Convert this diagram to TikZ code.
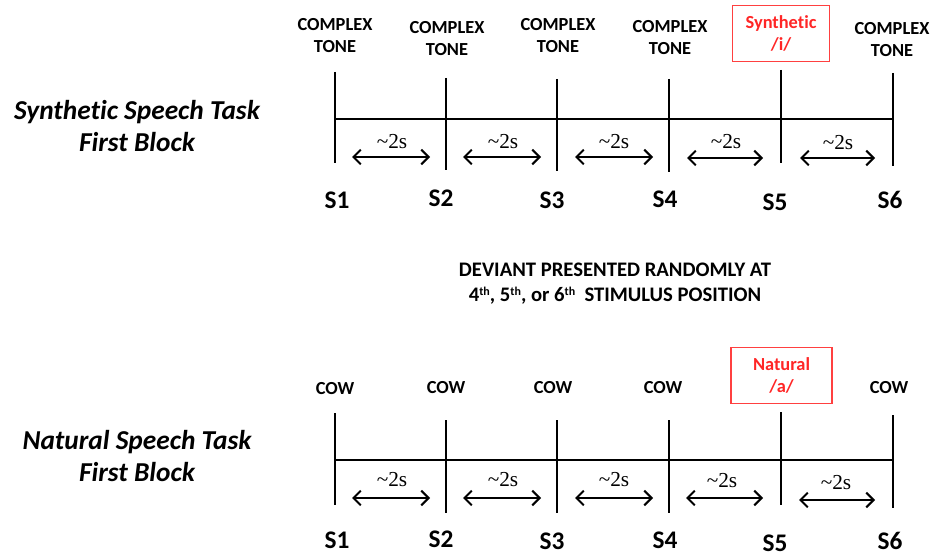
\documentclass[tikz,border=0pt]{standalone}
\usepackage{fontspec}
\setmainfont{Carlito}[Ligatures=NoCommon]
\newfontfamily\gapfont{Liberation Serif}
\usetikzlibrary{arrows.meta, positioning}

\tikzset{
    stim/.style={font=\fontsize{13.8}{16.5}\selectfont\bfseries, align=center, inner sep=0pt},
    slab/.style={font=\fontsize{19}{20}\selectfont\bfseries, inner sep=0pt},
    gaplab/.style={font=\fontsize{16}{16}\gapfont, inner sep=0pt},
    task/.style={font=\fontsize{20.5}{24}\selectfont\bfseries\itshape, align=center, inner sep=0pt},
    devbox/.style={draw=red!75, line width=1.1pt, text=red!85, font=\fontsize{13.8}{17}\selectfont\bfseries,
        align=center, minimum width=73pt, minimum height=42pt},
    tick/.style={line width=1.6pt},
    base/.style={line width=1.1pt},
    gap/.style={<->, line width=1.5pt}
}

\begin{document}
\begin{tikzpicture}[x=0.75pt, y=-0.75pt, >={Straight Barb[length=5.5pt, width=11pt]}]
    \useasboundingbox (0,0) rectangle (934,556);

    % Task titles
    \node[task] (synth) at (137,126) {Synthetic Speech Task\\First Block};
    \node[task] (nat) at (137,456) {Natural Speech Task\\First Block};

    % Upper timeline: stimulus ticks
    \coordinate (u1t) at (335,72);  \coordinate (u1b) at (335,163);
    \coordinate (u2t) at (446,78);  \coordinate (u2b) at (446,170);
    \coordinate (u3t) at (557,79);  \coordinate (u3b) at (557,171);
    \coordinate (u4t) at (669,79);  \coordinate (u4b) at (669,172);
    \coordinate (u5t) at (781,70);  \coordinate (u5b) at (781,163);
    \coordinate (u6t) at (893,73);  \coordinate (u6b) at (893,166);
    \draw[tick] (u1t) -- (u1b);
    \draw[tick] (u2t) -- (u2b);
    \draw[tick] (u3t) -- (u3b);
    \draw[tick] (u4t) -- (u4b);
    \draw[tick] (u5t) -- (u5b);
    \draw[tick] (u6t) -- (u6b);
    \coordinate (u1m) at (335,119); \coordinate (u6m) at (893,119);
    \draw[base] (u1m) -- (u6m);

    % Upper timeline: stimuli
    \node[stim] (tone1) at (335,36) {COMPLEX\\TONE};
    \node[stim] (tone2) at (447,39) {COMPLEX\\TONE};
    \node[stim] (tone3) at (558,36) {COMPLEX\\TONE};
    \node[stim] (tone4) at (670,37.5) {COMPLEX\\TONE};
    \node[devbox] (devi) at (781,33.5) {Synthetic\\/i/};
    \node[stim] (tone6) at (892,39.5) {COMPLEX\\TONE};

    % Upper timeline: intervals
    \coordinate (ua1) at (352,157); \coordinate (ub1) at (430,157);
    \coordinate (ua2) at (463,157); \coordinate (ub2) at (541,157);
    \coordinate (ua3) at (575,157); \coordinate (ub3) at (653,157);
    \coordinate (ua4) at (687,158); \coordinate (ub4) at (763,158);
    \coordinate (ua5) at (800,158); \coordinate (ub5) at (875,158);
    \draw[gap] (ua1) -- (ub1);
    \draw[gap] (ua2) -- (ub2);
    \draw[gap] (ua3) -- (ub3);
    \draw[gap] (ua4) -- (ub4);
    \draw[gap] (ua5) -- (ub5);
    \node[gaplab] (ug1) at (392,142) {\textasciitilde 2s};
    \node[gaplab] (ug2) at (503,142) {\textasciitilde 2s};
    \node[gaplab] (ug3) at (614,142) {\textasciitilde 2s};
    \node[gaplab] (ug4) at (726,142) {\textasciitilde 2s};
    \node[gaplab] (ug5) at (838,143) {\textasciitilde 2s};

    % Upper timeline: positions
    \node[slab] (us1) at (337,200) {S1};
    \node[slab] (us2) at (441,198) {S2};
    \node[slab] (us3) at (552,200) {S3};
    \node[slab] (us4) at (665,199) {S4};
    \node[slab] (us5) at (775,202) {S5};
    \node[slab] (us6) at (890,200) {S6};

    % Note between the blocks
    \node[font=\fontsize{15.5}{19}\selectfont\bfseries, align=center] (note) at (615,283.5)
        {DEVIANT PRESENTED RANDOMLY AT\\4{\fontsize{9}{9}\selectfont\raisebox{4.5pt}{th}}, 5{\fontsize{9}{9}\selectfont\raisebox{4.5pt}{th}}, or 6{\fontsize{9}{9}\selectfont\raisebox{4.5pt}{th}}\ \ STIMULUS POSITION};

    % Lower timeline: stimulus ticks
    \coordinate (l1t) at (335,413); \coordinate (l1b) at (335,505);
    \coordinate (l2t) at (446,420); \coordinate (l2b) at (446,513);
    \coordinate (l3t) at (557,420); \coordinate (l3b) at (557,513);
    \coordinate (l4t) at (669,420); \coordinate (l4b) at (669,513);
    \coordinate (l5t) at (781,412); \coordinate (l5b) at (781,505);
    \coordinate (l6t) at (893,415); \coordinate (l6b) at (893,508);
    \draw[tick] (l1t) -- (l1b);
    \draw[tick] (l2t) -- (l2b);
    \draw[tick] (l3t) -- (l3b);
    \draw[tick] (l4t) -- (l4b);
    \draw[tick] (l5t) -- (l5b);
    \draw[tick] (l6t) -- (l6b);
    \coordinate (l1m) at (335,460); \coordinate (l6m) at (893,460);
    \draw[base] (l1m) -- (l6m);

    % Lower timeline: stimuli
    \node[stim] (cow1) at (335,389) {COW};
    \node[stim] (cow2) at (446,388) {COW};
    \node[stim] (cow3) at (553,388) {COW};
    \node[stim] (cow4) at (663,388) {COW};
    \node[devbox, minimum width=76pt] (deva) at (781.5,375.5) {Natural\\/a/};
    \node[stim] (cow6) at (889,388) {COW};

    % Lower timeline: intervals
    \coordinate (la1) at (352,498); \coordinate (lb1) at (430,498);
    \coordinate (la2) at (463,498); \coordinate (lb2) at (541,498);
    \coordinate (la3) at (575,498); \coordinate (lb3) at (653,498);
    \coordinate (la4) at (686,498); \coordinate (lb4) at (763,498);
    \coordinate (la5) at (799,500); \coordinate (lb5) at (875,500);
    \draw[gap] (la1) -- (lb1);
    \draw[gap] (la2) -- (lb2);
    \draw[gap] (la3) -- (lb3);
    \draw[gap] (la4) -- (lb4);
    \draw[gap] (la5) -- (lb5);
    \node[gaplab] (lg1) at (392,480) {\textasciitilde 2s};
    \node[gaplab] (lg2) at (503,480) {\textasciitilde 2s};
    \node[gaplab] (lg3) at (614,480) {\textasciitilde 2s};
    \node[gaplab] (lg4) at (722,481) {\textasciitilde 2s};
    \node[gaplab] (lg5) at (836,483) {\textasciitilde 2s};

    % Lower timeline: positions
    \node[slab] (ls1) at (337,540) {S1};
    \node[slab] (ls2) at (441,539) {S2};
    \node[slab] (ls3) at (552,541) {S3};
    \node[slab] (ls4) at (665,540) {S4};
    \node[slab] (ls5) at (775,543) {S5};
    \node[slab] (ls6) at (890,541) {S6};
\end{tikzpicture}
\end{document}
